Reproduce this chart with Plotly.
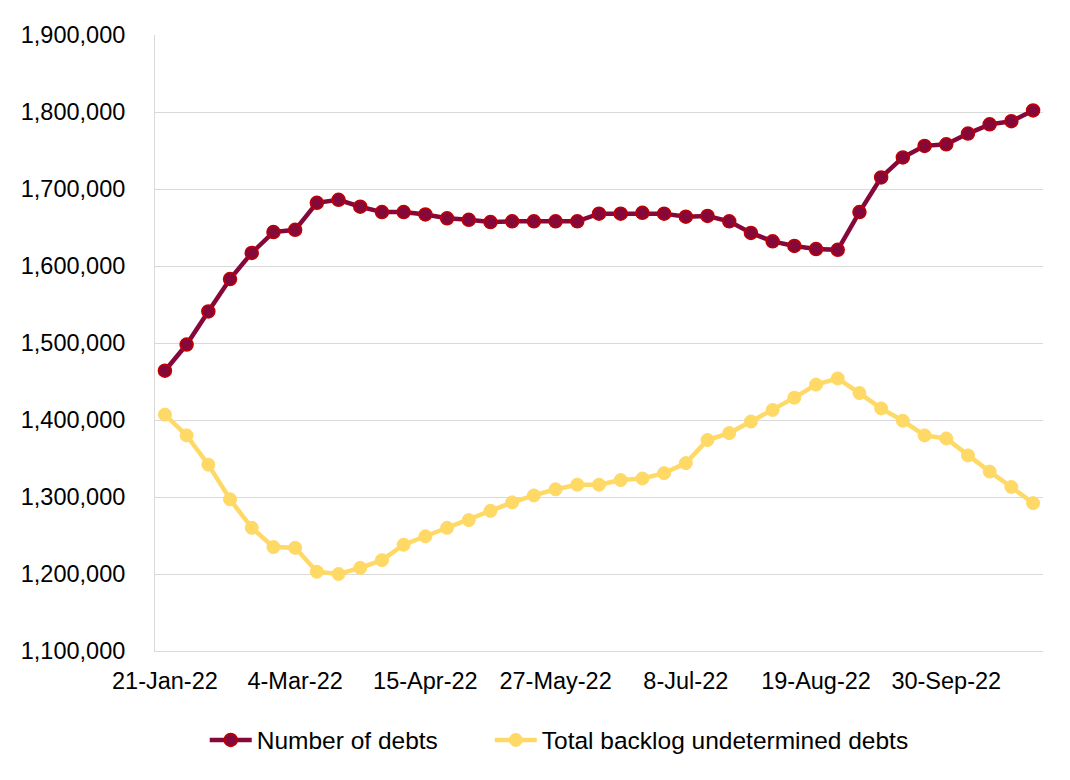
import plotly.graph_objects as go
import pandas as pd

dates = pd.date_range("2022-01-21", periods=41, freq="7D")

number_of_debts = [
    1464000, 1498000, 1541000, 1583000, 1617000, 1644000, 1647000, 1682000, 1686000, 1677000,
    1670000, 1670000, 1667000, 1662000, 1660000, 1657000, 1658000, 1658000, 1658000, 1658000,
    1668000, 1668000, 1669000, 1668000, 1664000, 1665000, 1658000, 1643000, 1632000, 1626000,
    1622000, 1621000, 1670000, 1715000, 1741000, 1756000, 1758000, 1772000, 1784000, 1788000,
    1802000,
]
backlog = [
    1407000, 1380000, 1342000, 1297000, 1260000, 1235000, 1234000, 1203000, 1200000, 1208000,
    1218000, 1238000, 1249000, 1260000, 1270000, 1282000, 1293000, 1302000, 1310000, 1316000,
    1316000, 1322000, 1324000, 1331000, 1344000, 1374000, 1383000, 1398000, 1413000, 1429000,
    1446000, 1454000, 1435000, 1415000, 1399000, 1380000, 1376000, 1354000, 1333000, 1313000,
    1292000,
]
tick_dates = dates[::6]
tick_labels = [d.strftime("%-d-%b-%y") for d in tick_dates]

font = "Liberation Sans, Arial, sans-serif"
fig = go.Figure()
fig.add_trace(go.Scatter(
    x=dates, y=number_of_debts, name="Number of debts", mode="lines+markers",
    line=dict(color="#86073A", width=4.5),
    marker=dict(size=13, color="#86073A", line=dict(color="#C00000", width=1.5)),
    legend="legend",
))
fig.add_trace(go.Scatter(
    x=dates, y=backlog, name="Total backlog undetermined debts", mode="lines+markers",
    line=dict(color="#FFD966", width=4.5),
    marker=dict(size=13, color="#FFD966", line=dict(color="#FFD966", width=1)),
    legend="legend2",
))

pad = pd.Timedelta(days=3.2)
fig.update_layout(
    width=1070, height=780,
    margin=dict(l=147, r=35, t=27, b=137),
    paper_bgcolor="white", plot_bgcolor="white",
    font=dict(family=font, size=23.5, color="#000000"),
    showlegend=True,
    legend=dict(orientation="h", x=0.056, xanchor="left", y=-0.1445, yanchor="middle",
                font=dict(size=24.5), itemwidth=42),
    legend2=dict(orientation="h", x=0.377, xanchor="left", y=-0.1445, yanchor="middle",
                 font=dict(size=24.5), itemwidth=42),
    xaxis=dict(
        type="date", range=[dates[0] - pad, dates[-1] + pad],
        tickvals=list(tick_dates), ticktext=tick_labels,
        showgrid=False, showline=True, linecolor="#d9d9d9", linewidth=1,
        ticks="", ticklabelstandoff=9, tickfont=dict(size=23.5),
    ),
    yaxis=dict(
        range=[1100000, 1900000], dtick=100000, tickformat=",",
        showgrid=True, gridcolor="#d9d9d9", gridwidth=1,
        showline=True, linecolor="#d9d9d9", linewidth=1,
        zeroline=False, ticks="", ticklabelstandoff=24, tickfont=dict(size=23.5),
    ),
)
fig.write_html("out.html")
